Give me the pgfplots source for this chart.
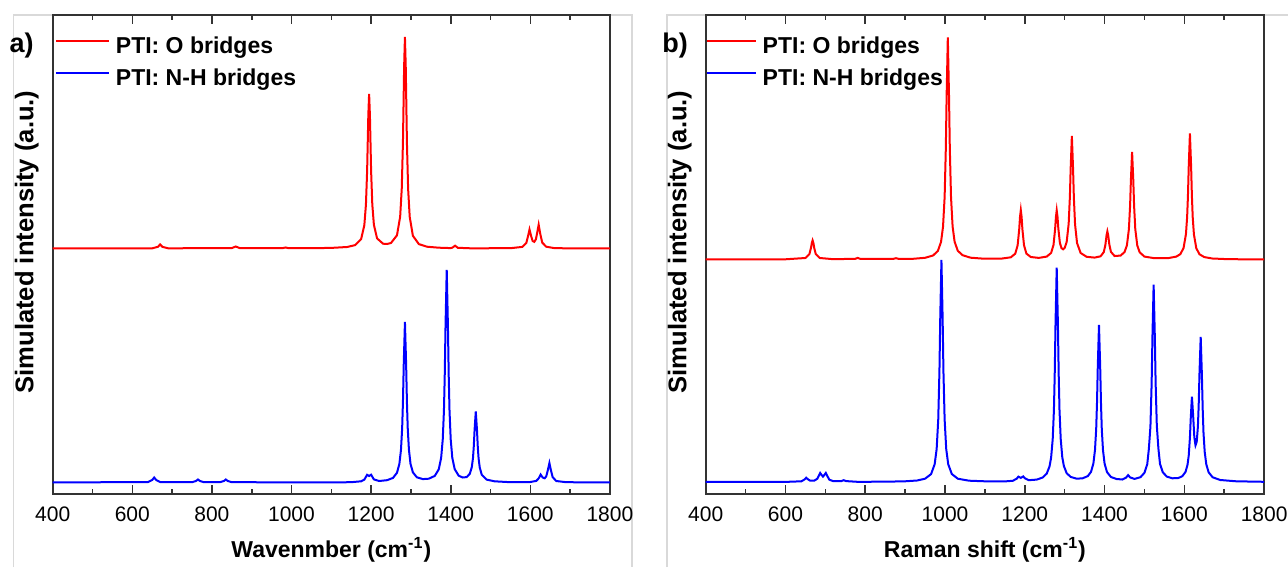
\documentclass[border=0pt]{standalone}
\usepackage{fontspec}
\setmainfont{Liberation Sans}
\usepackage{pgfplots}
\pgfplotsset{compat=1.18}
\pgfplotsset{myax/.style={
  scale only axis, height=239.5pt,
  xmin=400, xmax=1800, ymin=0, ymax=479,
  xtick={400,600,...,1800}, minor x tick num=1, ytick=\empty,
  tick align=inside, major tick length=4.5pt, minor tick length=2.5pt,
  axis line style={black!80, line width=1pt},
  every tick/.style={black!80, line width=0.8pt},
  /pgf/number format/assume math mode=true,
  /pgf/number format/1000 sep={},
  ticklabel style={font=\fontsize{10.5}{12}\selectfont},
  xticklabel style={yshift=-3pt},
  xlabel style={font=\bfseries\fontsize{11.5}{13}\selectfont, at={(axis description cs:0.5,-0.1169)}, anchor=center},
  ylabel style={font=\bfseries\fontsize{12.8}{14}\selectfont, at={(axis description cs:-0.0467,0.526)}, anchor=center},
  legend style={draw=none, fill=none, inner sep=0pt, outer sep=0pt,
    at={(axis description cs:0.004,1)}, anchor=north west, yshift=-10.8pt,
    font=\bfseries\fontsize{11.5}{13}\selectfont,
    nodes={inner sep=0pt, text height=8.3pt, text depth=2.7pt}, row sep=5pt},
  legend cell align=left,
  legend image code/.code={\draw[#1] (0pt,3.5pt) -- (26.5pt,3.5pt); \path (29.5pt,3.5pt);},
}}
\begin{document}
\begin{tikzpicture}
\useasboundingbox (0,0) rectangle (644pt,283.5pt);
\draw[gray!30, line width=0.6pt] (6.65pt,0) -- (6.65pt,276pt) -- (316pt,276pt) -- (316pt,0);
\draw[gray!30, line width=0.6pt] (333.5pt,0) -- (333.5pt,276pt) -- (644pt,276pt);
\begin{axis}[myax, width=278.6pt, at={(26.35pt,36.5pt)}, anchor=south west,
  xlabel={Wavenmber (cm\textsuperscript{-1})}, ylabel={Simulated intensity (a.u.)}]
\addplot[red, line width=1pt] coordinates {
(400,245.5) (640,245.6) (650,245.7) (664,247.1) (670,249.5) (676,247.1) (690,245.7) (850,245.9) (860,247.5) (870,245.9) (977,245.8) (985,246.5) (993,245.8) (1050,245.8) (1100,246.1) (1140,247.0) (1160,248.9) (1175,255.0) (1183,268.8) (1187,289.3) (1190,323.1) (1193,378.8) (1195,400.1) (1197,378.9) (1200,323.1) (1203,289.6) (1207,269.2) (1215,255.6) (1230,250.3) (1240,250.0) (1250,251.0) (1265,258.7) (1273,277.3) (1277,305.4) (1280,351.6) (1283,427.9) (1285,457) (1287,427.9) (1290,351.5) (1293,305.2) (1297,277.1) (1305,258.2) (1320,249.9) (1340,247.3) (1370,246.3) (1400,245.9) (1404,246.3) (1411,248.3) (1418,246.2) (1450,245.7) (1550,245.8) (1580,247.1) (1590,251.1) (1594,257.3) (1598,264.5) (1602,258.0) (1606,252.9) (1610,252.1) (1614,254.7) (1617,260.7) (1621,269.3) (1625,260.1) (1630,251.4) (1640,247.3) (1660,245.9) (1700,245.6) (1800,245.5)};
\addlegendentry{PTI: O bridges}
\addplot[blue, line width=1pt] coordinates {
(400,11.5) (640,12.0) (650,14.0) (655,16.5) (660,14.0) (670,12.0) (750,11.8) (760,13.0) (765,14.5) (770,13.0) (780,11.8) (820,11.8) (830,13.0) (835,14.5) (840,13.0) (850,11.8) (1100,11.6) (1150,11.8) (1175,12.7) (1183,14.4) (1190,19.2) (1195,18.0) (1200,19.3) (1207,14.6) (1220,13.0) (1240,13.8) (1255,16.1) (1265,21.2) (1271,30.0) (1275,43.9) (1278,65.5) (1280,91.9) (1282,129.5) (1285,172.0) (1288,129.6) (1290,92.0) (1292,66.0) (1295,44.5) (1299,30.2) (1305,21.6) (1315,16.7) (1330,14.9) (1345,15.3) (1360,18.1) (1370,24.7) (1376,36.2) (1380,54.6) (1383,83.2) (1385,118.2) (1387,168.2) (1390,224.2) (1393,168.2) (1395,118.3) (1397,83.2) (1400,54.7) (1404,36.2) (1410,24.9) (1420,18.3) (1430,16.5) (1440,16.9) (1448,20.2) (1453,26.9) (1456,36.0) (1458,47.7) (1460,64.2) (1463,82.5) (1466,64.0) (1468,47.5) (1470,35.8) (1473,26.4) (1478,19.3) (1490,14.4) (1510,12.7) (1550,11.8) (1600,12.0) (1615,13.1) (1621,15.6) (1626,19.4) (1631,16.5) (1636,15.7) (1640,17.6) (1644,23.7) (1648,30.9) (1652,23.4) (1656,17.0) (1665,13.0) (1690,11.8) (1800,11.5)};
\addlegendentry{PTI: N-H bridges}
\end{axis}
\begin{axis}[myax, width=279.2pt, at={(352.85pt,36.5pt)}, anchor=south west,
  legend style={at={(axis description cs:0.0,1)}},
  legend image code/.code={\draw[#1] (0pt,3.5pt) -- (24.5pt,3.5pt); \path (27.5pt,3.5pt);},
  xlabel={Raman shift (cm\textsuperscript{-1})}, ylabel={Simulated intensity (a.u.)}]
\addplot[red, line width=1pt] coordinates {
(400,234.5) (600,234.7) (650,236.0) (660,239.9) (664,246.2) (666,251.0) (668,253.6) (670,251.0) (672,246.2) (676,239.9) (686,236.0) (720,234.8) (775,235.2) (781,236.1) (787,235.2) (870,235.1) (877,235.8) (884,235.1) (920,235.2) (950,236.2) (970,238.5) (982,243.0) (990,252.1) (995,267.3) (999,296.9) (1002,345.5) (1004,397.7) (1007,456.7) (1010,397.8) (1012,345.7) (1015,297.1) (1019,267.5) (1024,252.3) (1032,243.2) (1044,238.8) (1064,236.3) (1094,235.4) (1140,235.3) (1165,236.7) (1176,240.3) (1182,248.6) (1186,264.7) (1188,277.0) (1190,283.8) (1192,277.0) (1194,264.7) (1198,248.8) (1204,240.4) (1215,237.0) (1235,236.1) (1255,237.4) (1266,241.1) (1272,249.1) (1276,264.9) (1278,276.8) (1280,283.6) (1282,277.3) (1284,265.8) (1288,251.0) (1292,245.9) (1296,244.7) (1300,246.1) (1305,252.1) (1310,270.2) (1313,296.9) (1315,325.5) (1318,358.0) (1321,325.3) (1323,296.5) (1326,269.6) (1331,250.9) (1340,241.0) (1355,237.2) (1375,236.4) (1390,237.7) (1398,241.9) (1402,249.0) (1405,258.8) (1407,262.6) (1409,258.9) (1412,249.3) (1416,242.1) (1425,238.0) (1440,238.4) (1450,241.9) (1456,248.6) (1461,264.9) (1464,288.5) (1466,313.7) (1469,342.2) (1472,313.7) (1474,288.5) (1477,264.9) (1482,248.5) (1488,241.7) (1500,237.4) (1525,235.8) (1560,235.9) (1580,237.4) (1590,239.9) (1598,245.9) (1604,259.8) (1607,277.0) (1609,297.6) (1611,327.2) (1614,360.6) (1617,327.0) (1619,297.4) (1621,276.8) (1624,259.6) (1630,245.7) (1638,239.7) (1650,236.9) (1670,235.5) (1710,234.8) (1800,234.6)};
\addlegendentry{PTI: O bridges}
\addplot[blue, line width=1pt] coordinates {
(400,12.0) (600,12.1) (640,12.7) (648,14.6) (652,16.3) (656,14.8) (662,13.3) (672,13.3) (680,15.3) (684,18.6) (687,21.0) (690,19.3) (694,17.4) (698,19.3) (701,21.0) (704,18.6) (710,14.3) (720,12.8) (740,12.9) (746,13.8) (752,12.9) (780,12.2) (850,12.3) (900,12.7) (930,13.5) (950,15.3) (965,19.9) (974,29.7) (979,44.9) (983,74.5) (986,123.0) (988,175.3) (991,234.1) (994,175.3) (996,123.1) (999,74.6) (1003,45.0) (1008,29.8) (1017,20.0) (1032,15.3) (1060,13.3) (1100,12.7) (1150,12.6) (1170,13.2) (1180,15.4) (1184,17.4) (1190,16.1) (1196,17.6) (1200,15.8) (1210,13.8) (1230,14.4) (1245,16.5) (1255,20.4) (1262,27.6) (1266,36.4) (1270,55.0) (1273,83.8) (1275,119.2) (1277,169.5) (1280,226.4) (1283,169.7) (1285,119.4) (1287,84.0) (1290,55.2) (1294,36.7) (1298,27.9) (1305,20.8) (1315,17.1) (1330,15.3) (1345,15.7) (1358,17.9) (1366,22.1) (1372,30.6) (1376,44.1) (1379,65.1) (1381,90.8) (1383,127.5) (1386,169.0) (1389,127.5) (1391,91.0) (1393,65.0) (1396,44.0) (1400,30.5) (1406,22.0) (1416,17.0) (1430,15.0) (1445,14.5) (1454,16.4) (1459,18.9) (1464,16.6) (1475,15.1) (1490,16.8) (1500,21.2) (1507,29.8) (1511,45.0) (1515,67.6) (1518,110.6) (1520,156.7) (1523,209.3) (1526,157.2) (1528,111.1) (1531,68.2) (1535,45.3) (1539,30.1) (1546,21.7) (1556,17.4) (1570,15.7) (1585,16.0) (1595,17.8) (1603,22.1) (1608,29.3) (1611,38.4) (1614,56.3) (1616,75.2) (1619,97.4) (1622,78.9) (1625,57.0) (1628,48.7) (1631,52.1) (1634,67.4) (1636,89.1) (1638,121.1) (1641,157.1) (1644,119.0) (1646,85.3) (1648,61.6) (1651,42.2) (1655,29.7) (1661,21.6) (1671,16.7) (1690,14.0) (1730,12.7) (1800,12.2)};
\addlegendentry{PTI: N-H bridges}
\end{axis}
\node[font=\bfseries\fontsize{13.5}{15}\selectfont] at (10.8pt,260.6pt) {a)};
\node[font=\bfseries\fontsize{13.5}{15}\selectfont] at (337.5pt,260.6pt) {b)};
\end{tikzpicture}
\end{document}
